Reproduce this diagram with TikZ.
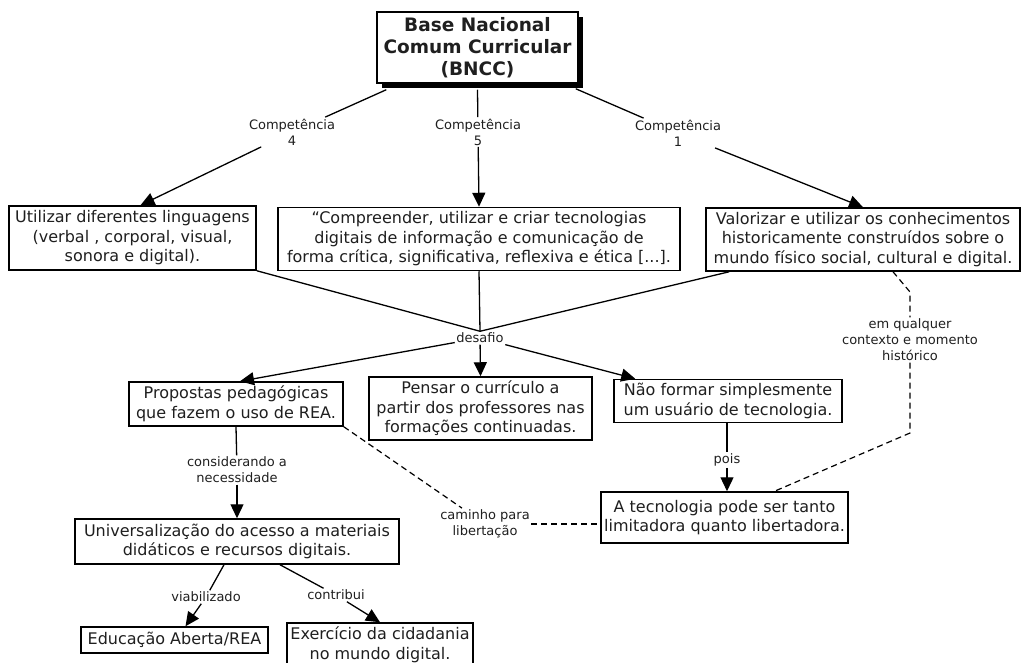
\documentclass[tikz,border=0pt]{standalone}
\usepackage{fontspec}
\setmainfont{DejaVu Sans}
\usetikzlibrary{arrows.meta,shadows,calc}
\begin{document}
\begin{tikzpicture}[x=1pt,y=-1pt,
  box/.style={draw, line width=1.5pt, fill=white, align=center, inner sep=0pt, text=black!88, font=\fontsize{16}{19.5}\selectfont},
  lbl/.style={align=center, inner sep=1.5pt, text=black!88, font=\fontsize{13}{16}\selectfont},
  conn/.style={line width=1.3pt},
  arr/.style={conn, -{Triangle[length=14pt,width=13pt]}},
  dsh/.style={line width=1.2pt, dash pattern=on 6pt off 4pt}]
\path[use as bounding box] (0,0) rectangle (1022,663);

% boxes
\node[box, minimum width=201pt, minimum height=71pt, font=\bfseries\fontsize{18.5}{22}\selectfont,
      general shadow={fill=black, shadow xshift=5pt, shadow yshift=-5pt}] (bncc) at (477.5,47.5) {Base Nacional\\Comum Curricular\\(BNCC)};
\node[box, minimum width=247pt, minimum height=64pt] (util) at (132.5,238) {Utilizar diferentes linguagens\\(verbal , corporal, visual,\\sonora e digital).};
\node[box, minimum width=402pt, minimum height=63pt] (comp) at (479,239) {“Compreender, utilizar e criar tecnologias\\digitais de informação e comunicação de\\forma crítica, significativa, reflexiva e ética [...].};
\node[box, minimum width=314pt, minimum height=63pt] (valo) at (863,239.5) {Valorizar e utilizar os conhecimentos\\historicamente construídos sobre o\\mundo físico social, cultural e digital.};
\node[box, minimum width=214pt, minimum height=44pt] (prop) at (236,404) {Propostas pedagógicas\\que fazem o uso de REA.};
\node[box, minimum width=223pt, minimum height=63pt] (pens) at (480.5,408.5) {Pensar o currículo a\\partir dos professores nas\\formações continuadas.};
\node[box, minimum width=228pt, minimum height=43pt] (naof) at (728,401) {Não formar simplesmente\\um usuário de tecnologia.};
\node[box, minimum width=324pt, minimum height=45pt] (univ) at (237,541.5) {Universalização do acesso a materiais\\didáticos e recursos digitais.};
\node[box, minimum width=187pt, minimum height=26pt] (educ) at (174.5,640) {Educação Aberta/REA};
\node[box, minimum width=186pt, minimum height=44pt] (exer) at (380,645) {Exercício da cidadania\\no mundo digital.};
\node[box, minimum width=247pt, minimum height=51pt] (tecn) at (724.5,517.5) {A tecnologia pode ser tanto\\limitadora quanto libertadora.};

% labels
\node[lbl] (c4) at (292,132) {Competência\\4};
\node[lbl] (c5) at (478,132) {Competência\\5};
\node[lbl] (c1) at (678,133) {Competência\\1};
\node[lbl] (desa) at (480,338) {desafio};
\node[lbl] (cons) at (237,470) {considerando a\\necessidade};
\node[lbl] (pois) at (727,460) {pois};
\node[lbl] (cami) at (485,524) {caminho para\\libertação};
\node[lbl] (emq) at (910,340) {em qualquer\\contexto e momento\\histórico};
\node[lbl] (viab) at (206,597) {viabilizado};
\node[lbl] (cont) at (336,595) {contribui};

% connectors
\draw[conn] ([xshift=10pt,yshift=-6pt]bncc.south west) -- (c4);
\draw[arr] (c4) -- ([xshift=8pt]util.north);
\draw[conn] ([yshift=-6pt]bncc.south) -- (c5);
\draw[arr] (c5) -- (comp.north);
\draw[conn] ([xshift=-3pt,yshift=-5pt]bncc.south east) -- (c1);
\draw[arr] (c1) -- (valo.north);

\draw[conn] (util.south east) -- (desa.north);
\draw[conn] (comp.south) -- (desa.north);
\draw[conn] ([xshift=24pt]valo.south west) -- (desa.north);
\draw[arr] (desa) -- ([xshift=4pt]prop.north);
\draw[arr] (desa) -- (pens.north);
\draw[arr] (desa) -- ([xshift=22pt]naof.north west);

\draw[conn] (naof.south -| pois) -- (pois);
\draw[arr] (pois) -- (pois |- tecn.north);

\draw[conn] (prop.south) -- (cons);
\draw[arr] (cons) -- (univ.north);

\draw[conn] ([xshift=-13pt]univ.south) -- (viab);
\draw[arr] (viab) -- ([xshift=11pt]educ.north);
\draw[conn] ([xshift=43pt]univ.south) -- (cont);
\draw[arr] (cont) -- (exer.north);

% dashed
\draw[dsh] (prop.south east) -- (cami);
\draw[dsh] (cami.east) -- (cami.east -| tecn.west);
\coordinate (e1) at (910,292);
\coordinate (e2) at (910,433);
\draw[dsh] ([xshift=30pt]valo.south) -- (e1) -- (emq.north);
\draw[dsh] (emq.south) -- (e2) -- ([xshift=50pt]tecn.north);
\end{tikzpicture}
\end{document}
